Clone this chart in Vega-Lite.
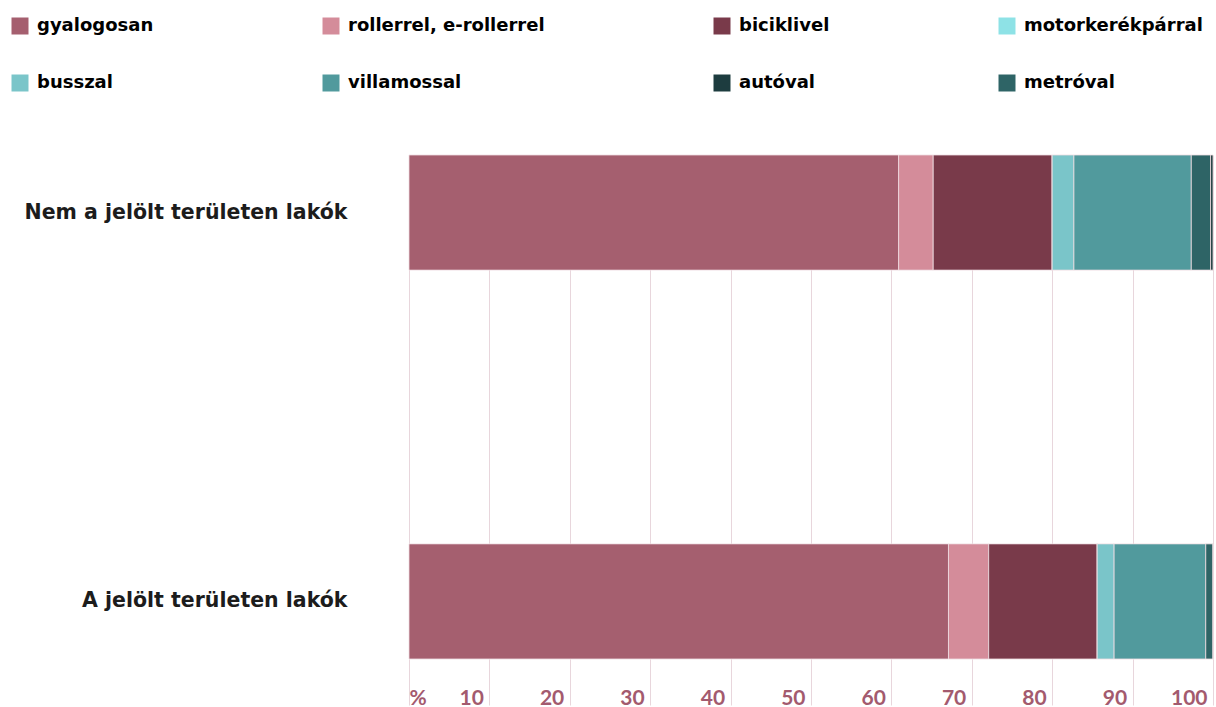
{
  "$schema": "https://vega.github.io/schema/vega-lite/v6.json",
  "width": 804,
  "height": 504,
  "autosize": {"type": "none"},
  "padding": {"left": 409, "top": 155, "right": 3, "bottom": 48},
  "background": "white",
  "config": {"view": {"stroke": null}, "font": "DejaVu Sans"},
  "data": {
    "values": [
      {"csoport": "Nem a jelölt területen lakók", "mod": "gyalogosan", "szazalek": 60.9},
      {"csoport": "Nem a jelölt területen lakók", "mod": "rollerrel, e-rollerrel", "szazalek": 4.3},
      {"csoport": "Nem a jelölt területen lakók", "mod": "biciklivel", "szazalek": 14.8},
      {"csoport": "Nem a jelölt területen lakók", "mod": "motorkerékpárral", "szazalek": 0},
      {"csoport": "Nem a jelölt területen lakók", "mod": "busszal", "szazalek": 2.7},
      {"csoport": "Nem a jelölt területen lakók", "mod": "villamossal", "szazalek": 14.6},
      {"csoport": "Nem a jelölt területen lakók", "mod": "metróval", "szazalek": 2.4},
      {"csoport": "Nem a jelölt területen lakók", "mod": "autóval", "szazalek": 0.3},
      {"csoport": "A jelölt területen lakók", "mod": "gyalogosan", "szazalek": 67.1},
      {"csoport": "A jelölt területen lakók", "mod": "rollerrel, e-rollerrel", "szazalek": 5.0},
      {"csoport": "A jelölt területen lakók", "mod": "biciklivel", "szazalek": 13.5},
      {"csoport": "A jelölt területen lakók", "mod": "motorkerékpárral", "szazalek": 0},
      {"csoport": "A jelölt területen lakók", "mod": "busszal", "szazalek": 2.1},
      {"csoport": "A jelölt területen lakók", "mod": "villamossal", "szazalek": 11.4},
      {"csoport": "A jelölt területen lakók", "mod": "metróval", "szazalek": 0.9},
      {"csoport": "A jelölt területen lakók", "mod": "autóval", "szazalek": 0}
    ]
  },
  "transform": [
    {"calculate": "indexof(['gyalogosan','rollerrel, e-rollerrel','biciklivel','motorkerékpárral','busszal','villamossal','metróval','autóval'], datum.mod)", "as": "sorrend"}
  ],
  "mark": {"type": "bar", "stroke": "#efdde2", "strokeWidth": 0.8},
  "encoding": {
    "y": {
      "field": "csoport",
      "type": "nominal",
      "sort": ["Nem a jelölt területen lakók", "A jelölt területen lakók"],
      "scale": {"paddingInner": 0.704, "paddingOuter": 0},
      "axis": {
        "title": null,
        "domain": false,
        "ticks": false,
        "labelPadding": 62,
        "labelFont": "DejaVu Sans",
        "labelFontWeight": "bold",
        "labelFontSize": 20.5,
        "labelColor": "#1c1c1c",
        "labelLimit": 400
      }
    },
    "x": {
      "field": "szazalek",
      "type": "quantitative",
      "stack": "zero",
      "scale": {"domain": [0, 100], "nice": false},
      "axis": {
        "title": null,
        "values": [0, 10, 20, 30, 40, 50, 60, 70, 80, 90, 100],
        "labelExpr": "datum.value == 0 ? '%' : datum.label",
        "domain": false,
        "grid": true,
        "gridColor": "#e8d6dc",
        "gridWidth": 1,
        "tickColor": "#e8d6dc",
        "tickSize": 46,
        "labelPadding": -7,
        "labelBaseline": "middle",
        "labelAlign": {"condition": {"test": "datum.value == 0", "value": "left"}, "value": "right"},
        "labelOffset": {"condition": {"test": "datum.value == 0", "value": 0}, "value": -6},
        "labelFont": "Lato",
        "labelFontWeight": "bold",
        "labelFontSize": 21,
        "labelColor": "#a35a6e",
        "labelFlush": false,
        "labelOverlap": false
      }
    },
    "color": {
      "field": "mod",
      "type": "nominal",
      "scale": {
        "domain": ["gyalogosan", "rollerrel, e-rollerrel", "biciklivel", "motorkerékpárral", "busszal", "villamossal", "autóval", "metróval"],
        "range": ["#a55f6f", "#d48c9a", "#793a4a", "#8ee2e6", "#7ac5c9", "#519a9d", "#1d3c3f", "#2e6466"]
      },
      "legend": {
        "title": null,
        "orient": "none",
        "legendX": -398,
        "legendY": -138,
        "direction": "horizontal",
        "columns": 4,
        "gridAlign": "each",
        "columnPadding": 168,
        "rowPadding": 39,
        "padding": 0,
        "symbolType": "square",
        "symbolSize": 289,
        "symbolStrokeWidth": 0,
        "symbolOpacity": 1,
        "labelOffset": 8,
        "labelFont": "DejaVu Sans",
        "labelFontWeight": "bold",
        "labelFontSize": 18,
        "labelLimit": 400,
        "encode": {
          "labels": {"update": {"fill": {"signal": "scale('color', datum.value)"}}}
        }
      }
    },
    "order": {"field": "sorrend", "type": "quantitative", "sort": "ascending"}
  }
}
